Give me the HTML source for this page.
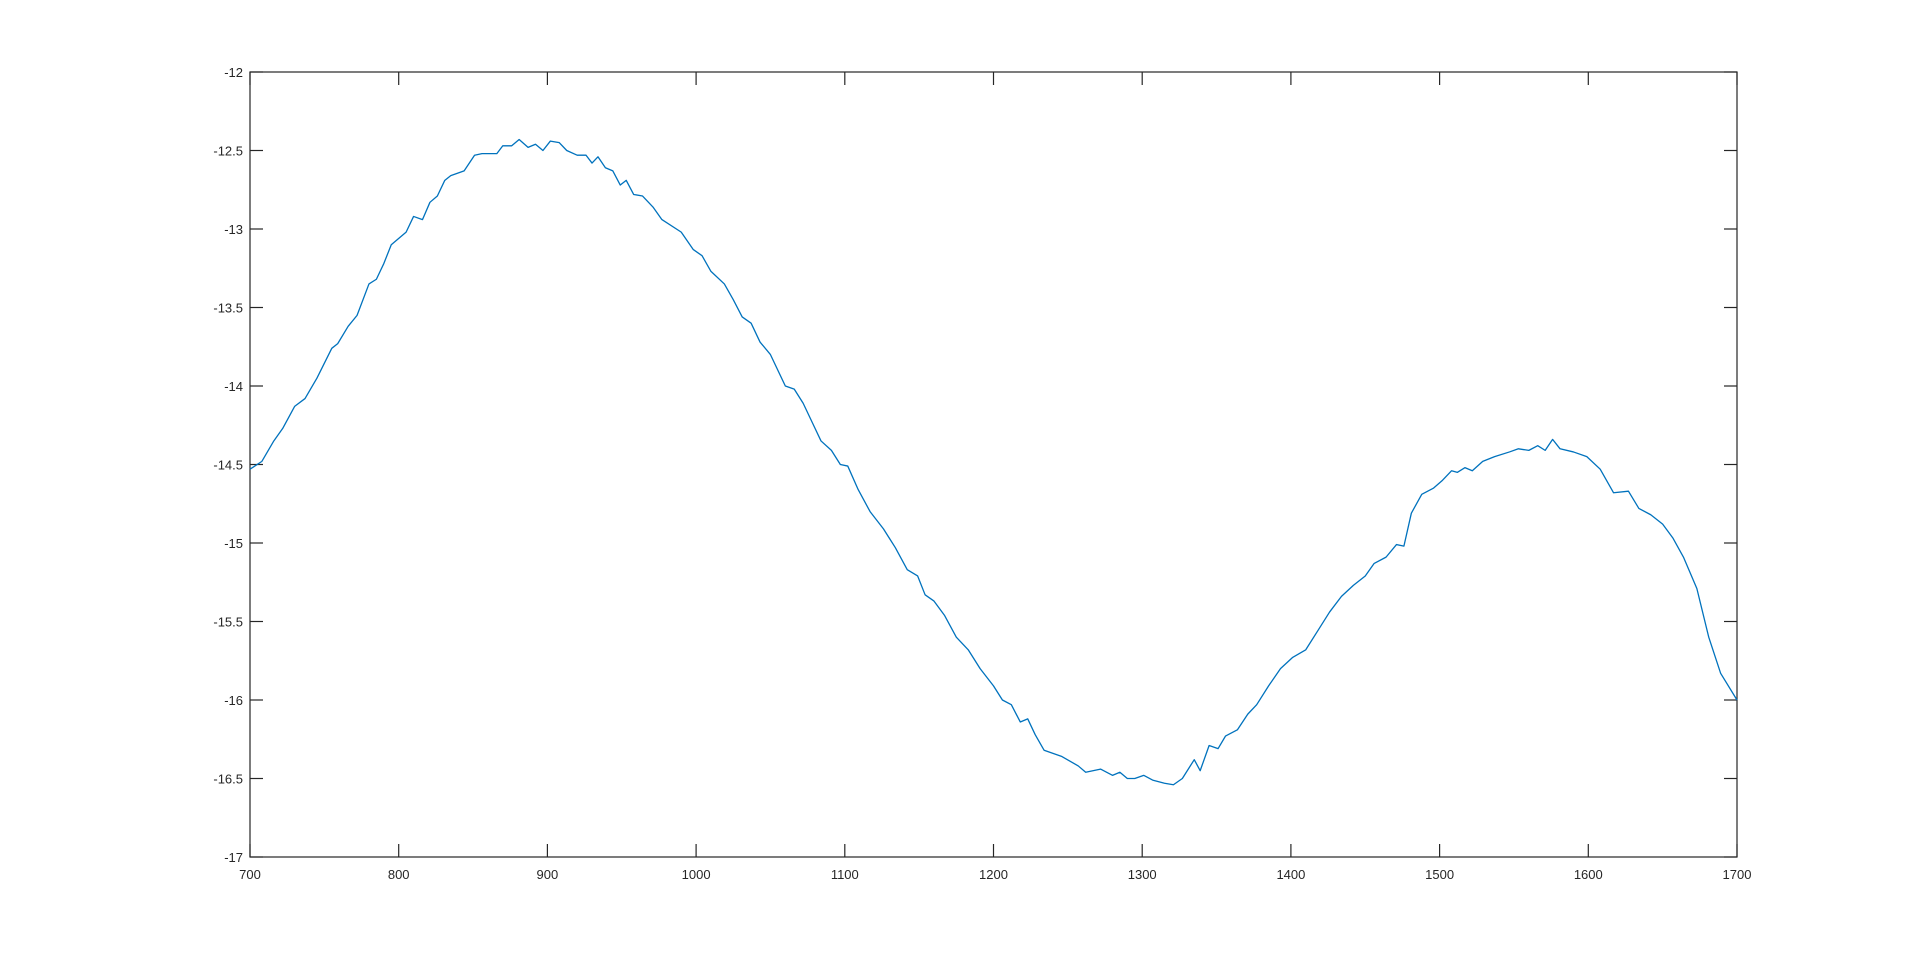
<!DOCTYPE html>
<html><head><meta charset="utf-8"><style>
html,body{margin:0;padding:0;background:#fff;}
svg{display:block;font-family:"Liberation Sans",Arial,sans-serif;}
</style></head><body>
<svg id="chart" width="1920" height="963" viewBox="0 0 1920 963">
<rect x="0" y="0" width="1920" height="963" fill="#fff"/>
<g id="axes"></g>
<path id="line" fill="none" stroke="#0072BD" stroke-width="1.3" stroke-linejoin="round"/>
</svg>
<script>
const xTicks=[700,800,900,1000,1100,1200,1300,1400,1500,1600,1700];
const yTicks=[-12,-12.5,-13,-13.5,-14,-14.5,-15,-15.5,-16,-16.5,-17];
const yTickLabels=["-12","-12.5","-13","-13.5","-14","-14.5","-15","-15.5","-16","-16.5","-17"];
const xs=[700,708,716,722,730,737,745,755,759,766,772,780,785,790,795,805,810,816,821,826,831,835,844,851,856,866,870,876,881,887,892,897,902,908,913,920,926,930,934,939,944,949,953,958,964,971,977,990,998,1004,1010,1019,1025,1031,1037,1043,1050,1060,1066,1072,1078,1084,1091,1097,1102,1109,1117,1126,1134,1142,1149,1154,1160,1167,1175,1183,1191,1200,1206,1212,1218,1223,1228,1234,1246,1257,1262,1272,1280,1285,1290,1295,1301,1307,1315,1321,1327,1335,1339,1345,1351,1356,1364,1371,1377,1385,1393,1401,1410,1418,1426,1434,1442,1450,1456,1464,1471,1476,1481,1488,1496,1502,1508,1512,1517,1522,1529,1537,1547,1553,1560,1566,1571,1576,1581,1590,1599,1608,1617,1627,1634,1642,1650,1657,1664,1673,1681,1689,1700];
const ys=[-14.53,-14.48,-14.35,-14.27,-14.13,-14.08,-13.95,-13.76,-13.73,-13.62,-13.55,-13.35,-13.32,-13.22,-13.1,-13.02,-12.92,-12.94,-12.83,-12.79,-12.69,-12.66,-12.63,-12.53,-12.52,-12.52,-12.47,-12.47,-12.43,-12.48,-12.46,-12.5,-12.44,-12.45,-12.5,-12.53,-12.53,-12.58,-12.54,-12.61,-12.63,-12.72,-12.69,-12.78,-12.79,-12.86,-12.94,-13.02,-13.13,-13.17,-13.27,-13.35,-13.45,-13.56,-13.6,-13.72,-13.8,-14.0,-14.02,-14.11,-14.23,-14.35,-14.41,-14.5,-14.51,-14.66,-14.8,-14.91,-15.03,-15.17,-15.21,-15.33,-15.37,-15.46,-15.6,-15.68,-15.8,-15.91,-16.0,-16.03,-16.14,-16.12,-16.22,-16.32,-16.36,-16.42,-16.46,-16.44,-16.48,-16.46,-16.5,-16.5,-16.48,-16.51,-16.53,-16.54,-16.5,-16.38,-16.45,-16.29,-16.31,-16.23,-16.19,-16.09,-16.03,-15.91,-15.8,-15.73,-15.68,-15.56,-15.44,-15.34,-15.27,-15.21,-15.13,-15.09,-15.01,-15.02,-14.81,-14.69,-14.65,-14.6,-14.54,-14.55,-14.52,-14.54,-14.48,-14.45,-14.42,-14.4,-14.41,-14.38,-14.41,-14.34,-14.4,-14.42,-14.45,-14.53,-14.68,-14.67,-14.78,-14.82,-14.88,-14.97,-15.09,-15.29,-15.6,-15.83,-16.0];

const L=250,R=1737,T=72,B=857;
const xMin=700,xMax=1700,yMin=-17,yMax=-12;
function sx(v){return L+(v-xMin)/(xMax-xMin)*(R-L);}
function sy(v){return B-(v-yMin)/(yMax-yMin)*(B-T);}
const NS="http://www.w3.org/2000/svg";
const axes=document.getElementById('axes');
function mk(tag,attrs){const e=document.createElementNS(NS,tag);for(const k in attrs)e.setAttribute(k,attrs[k]);axes.appendChild(e);return e;}
const box=mk('rect',{x:L,y:T,width:R-L,height:B-T,fill:'none',stroke:'#262626','stroke-width':1.2});


const tl=13;
xTicks.forEach(v=>{
  const x=sx(v);
  const t1=mk('line',{x1:x,x2:x,y1:B,y2:B-tl,stroke:'#262626','stroke-width':1.2});
  
  
  const t2=mk('line',{x1:x,x2:x,y1:T,y2:T+tl,stroke:'#262626','stroke-width':1.2});
  
  
  const tx=mk('text',{x:x,y:B+22,'text-anchor':'middle','font-size':13,fill:'#262626'});
  tx.textContent=String(v);
  
  
});
yTicks.forEach((v,i)=>{
  const y=sy(v);
  const t1=mk('line',{x1:L,x2:L+tl,y1:y,y2:y,stroke:'#262626','stroke-width':1.2});
  
  
  const t2=mk('line',{x1:R,x2:R-tl,y1:y,y2:y,stroke:'#262626','stroke-width':1.2});
  
  
  const tx=mk('text',{x:L-7,y:y+5,'text-anchor':'end','font-size':13,fill:'#262626'});
  tx.textContent=yTickLabels[i];
  
  
});
let d='';
xs.forEach((v,i)=>{d+=(i?'L':'M')+sx(v).toFixed(2)+','+sy(ys[i]).toFixed(2);});
document.getElementById('line').setAttribute('d',d);
</script>
</body></html>
